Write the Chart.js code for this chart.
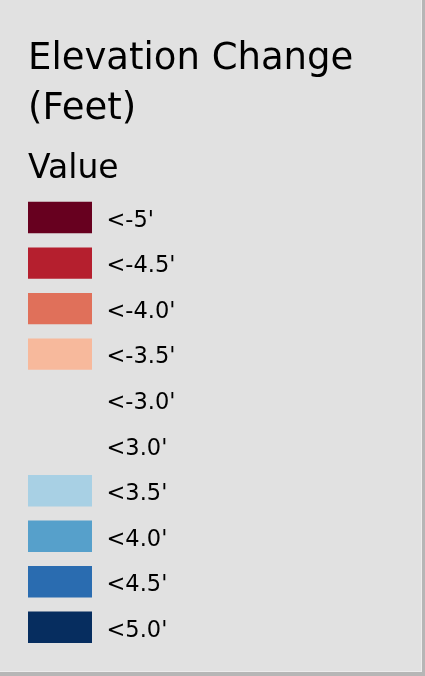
<!DOCTYPE html>
<html>
<head>
<meta charset="utf-8">
<script src="https://cdn.jsdelivr.net/npm/chart.js@4/dist/chart.umd.min.js"></script>
<style>
  html, body { margin: 0; padding: 0; background: #b6b6b6; }
  #panel {
    position: absolute; left: 0; top: 0;
    width: 421px; height: 671px;
    background: #e1e1e1;
    border-right: 1px solid #ececec;
    border-bottom: 1px solid #ececec;
  }
  #wrap { position: absolute; left: 0; top: 0; width: 421px; height: 671px; }
</style>
</head>
<body>
<div id="panel"><div id="wrap"><canvas id="c"></canvas></div></div>
<script>
const titleLines = ['Elevation Change', '(Feet)'];
const subtitleText = 'Value';
const categories = ["<-5'", "<-4.5'", "<-4.0'", "<-3.5'", "<-3.0'", "<3.0'", "<3.5'", "<4.0'", "<4.5'", "<5.0'"];
const swatchValues = [1, 1, 1, 1, null, null, 1, 1, 1, 1];
const swatchColors = ['#67001f', '#b51f2e', '#e0705a', '#f7b99c', 'rgba(0,0,0,0)', 'rgba(0,0,0,0)', '#a8d0e4', '#56a0cb', '#2a6cb0', '#062d5f'];

const FONT = "'DejaVu Sans', Verdana, sans-serif";

new Chart(document.getElementById('c'), {
  type: 'bar',
  data: {
    labels: categories,
    datasets: [{
      data: swatchValues,
      backgroundColor: swatchColors,
      borderWidth: 0,
      categoryPercentage: 1,
      barPercentage: 0.69
    }]
  },
  options: {
    indexAxis: 'y',
    responsive: true,
    maintainAspectRatio: false,
    animation: false,
    events: [],
    layout: { padding: { left: 28, right: 0, top: 0, bottom: 21 } },
    plugins: {
      legend: { display: false },
      tooltip: { enabled: false },
      title: {
        display: true,
        text: titleLines,
        align: 'start',
        color: '#000',
        font: { family: FONT, size: 37, weight: 'normal', lineHeight: 1.35 },
        padding: { top: 34.5, bottom: 0 }
      },
      subtitle: {
        display: true,
        text: subtitleText,
        align: 'start',
        color: '#000',
        font: { family: FONT, size: 33, weight: 'normal', lineHeight: 1.2 },
        padding: { top: 15.6, bottom: 5.2 }
      }
    },
    scales: {
      x: { display: false, min: 0, max: 1 },
      y: {
        position: 'right',
        grid: { display: false, drawTicks: false },
        border: { display: false },
        ticks: {
          color: '#000',
          padding: 14.5,
          labelOffset: 3.5,
          font: { family: FONT, size: 22.5 }
        },
        afterFit: (axis) => {
          axis.width = 421 - 92;
          axis.paddingTop = 0;
          axis.paddingBottom = 0;
        }
      }
    }
  }
});
</script>
</body>
</html>
